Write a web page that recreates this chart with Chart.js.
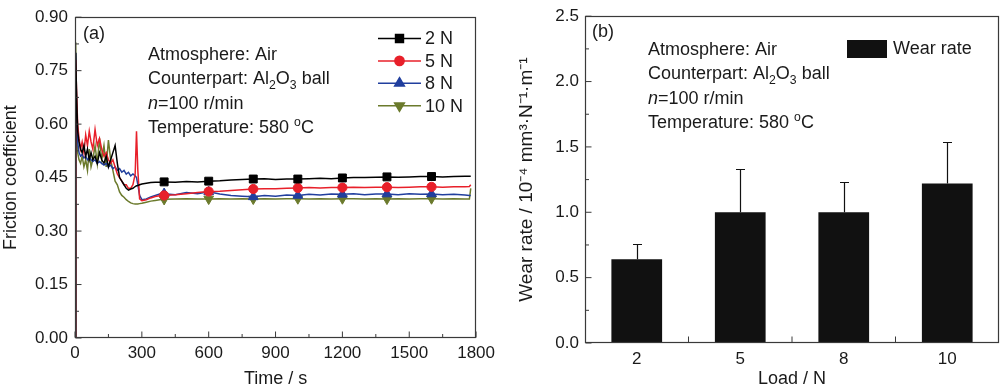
<!DOCTYPE html>
<html><head><meta charset="utf-8">
<script src="https://cdn.jsdelivr.net/npm/chart.js@4.4.1/dist/chart.umd.min.js"></script>
<style>
html,body{margin:0;padding:0;background:#fff;}
#wrap{position:relative;width:1000px;height:390px;overflow:hidden;background:#fff;}
#c1{position:absolute;left:0;top:0;}
#c2{position:absolute;left:500px;top:0;}
</style></head><body>
<div id="wrap"><canvas id="c1" width="500" height="390"></canvas><canvas id="c2" width="500" height="390"></canvas></div>
<script>
// ---------- data: panel (a) friction coefficient vs time ----------
const time = [0,3,8,12,18,25,32,40,48,56,64,72,
  80,90,100,110,120,130,140,150,160,170,180,190,200,210,220,230,240,250,260,270,
  276,282,290,300,320,340,360,380,
  400,450,500,550,600,650,700,750,800,850,900,950,1000,1050,1100,1150,1200,1250,1300,1350,1400,1450,1500,1550,1600,1650,1700,1750,
  1770,1776];
const mu2N = [0,0.80,0.66,0.58,0.55,0.53,0.52,0.54,0.51,0.53,0.50,0.52,
  0.50,0.51,0.49,0.52,0.50,0.49,0.51,0.48,0.50,0.52,0.54,0.49,0.45,0.44,0.43,0.42,0.415,0.418,0.42,0.425,
  0.427,0.428,0.430,0.432,0.434,0.436,0.437,0.437,
  0.438,0.437,0.439,0.438,0.440,0.441,0.443,0.445,0.446,0.447,0.445,0.446,0.446,0.447,0.448,0.447,0.449,0.450,0.450,0.451,0.452,0.451,0.452,0.453,0.453,0.452,0.453,0.454,
  0.454,0.454];
const mu5N = [0,0.78,0.67,0.60,0.56,0.53,0.55,0.52,0.57,0.54,0.58,0.55,
  0.53,0.585,0.54,0.56,0.53,0.51,0.52,0.50,0.49,0.50,0.48,0.46,0.45,0.44,0.43,0.43,0.42,0.42,0.43,0.46,
  0.58,0.47,0.39,0.385,0.388,0.393,0.397,0.399,
  0.400,0.402,0.405,0.408,0.411,0.412,0.414,0.416,0.418,0.419,0.419,0.420,0.421,0.422,0.421,0.422,0.422,0.423,0.422,0.423,0.423,0.422,0.423,0.424,0.424,0.423,0.424,0.424,
  0.425,0.430];
const mu8N = [0,0.80,0.62,0.55,0.52,0.51,0.515,0.505,0.51,0.50,0.505,0.50,
  0.495,0.50,0.49,0.495,0.49,0.485,0.49,0.48,0.485,0.475,0.48,0.47,0.475,0.465,0.47,0.46,0.465,0.455,0.46,0.455,
  0.45,0.43,0.40,0.388,0.39,0.396,0.40,0.404,
  0.405,0.402,0.408,0.405,0.410,0.404,0.400,0.398,0.396,0.400,0.398,0.401,0.400,0.403,0.401,0.404,0.403,0.405,0.402,0.404,0.404,0.402,0.405,0.403,0.404,0.402,0.403,0.401,
  0.400,0.400];
const mu10N = [0,0.83,0.58,0.52,0.50,0.49,0.51,0.48,0.50,0.47,0.53,0.48,
  0.50,0.54,0.49,0.56,0.50,0.54,0.48,0.555,0.50,0.47,0.44,0.43,0.41,0.40,0.395,0.388,0.383,0.379,0.377,0.376,
  0.376,0.376,0.377,0.378,0.381,0.384,0.386,0.388,
  0.389,0.390,0.391,0.390,0.390,0.391,0.390,0.391,0.390,0.391,0.390,0.391,0.391,0.390,0.391,0.390,0.391,0.391,0.390,0.391,0.390,0.391,0.390,0.391,0.391,0.390,0.391,0.390,
  0.390,0.420];
const seriesLabels = ['2 N','5 N','8 N','10 N'];
const markerTimes = [400,600,800,1000,1200,1400,1600];

// ---------- data: panel (b) wear rate vs load ----------
const loads = ['2','5','8','10'];
const wearRate = [0.64,1.00,1.00,1.22];
const wearErr = [0.12,0.33,0.23,0.32];

const FONT = "'Liberation Sans', Arial, Helvetica, sans-serif";
const TXT = '#1a1a1a';
Chart.defaults.font.family = FONT;
Chart.defaults.color = TXT;

function drawRich(ctx, x, y, parts, size) {
  let cx = x;
  for (const p of parts) {
    const small = p.sub || p.sup;
    const fs = small ? size * 0.68 : size;
    ctx.font = (p.it ? 'italic ' : '') + fs + 'px ' + FONT;
    const dy = p.sub ? size * 0.28 : (p.sup ? -size * 0.4 : 0);
    ctx.fillText(p.t, cx, y + dy);
    cx += ctx.measureText(p.t).width;
  }
}
const notes = [
  [{t:'Atmosphere: Air'}],
  [{t:'Counterpart: Al'},{t:'2',sub:1},{t:'O'},{t:'3',sub:1},{t:' ball'}],
  [{t:'n',it:1},{t:'=100 r/min'}],
  [{t:'Temperature: 580 '},{t:'o',sup:1},{t:'C'}]
];

// frame + inward ticks
const frameTicks = {
  id: 'frameTicks',
  afterDraw(chart, args, o) {
    const {ctx, chartArea: a} = chart;
    ctx.save();
    ctx.strokeStyle = '#3a3a3a';
    ctx.lineWidth = 1.2;
    const L = Math.round(a.left) + 0.5, R = Math.round(a.right) - 0.5,
          T = Math.round(a.top) + 0.5, B = Math.round(a.bottom) - 0.5;
    ctx.strokeRect(L, T, R - L, B - T);
    ctx.lineWidth = 1;
    const ys = chart.scales.y;
    const yt = ys.ticks.map(t => ys.getPixelForValue(t.value));
    ctx.beginPath();
    yt.forEach((p, i) => {
      ctx.moveTo(L, p); ctx.lineTo(L + 6, p);
      if (i > 0) { const m = (p + yt[i-1]) / 2; ctx.moveTo(L, m); ctx.lineTo(L + 3.5, m); }
    });
    const xs = chart.scales.x;
    if (o.category) {
      for (let i = 1; i < xs.ticks.length; i++) {
        const m = (xs.getPixelForTick(i) + xs.getPixelForTick(i-1)) / 2;
        ctx.moveTo(m, B); ctx.lineTo(m, B - 6);
      }
    } else {
      const xt = xs.ticks.map(t => xs.getPixelForValue(t.value));
      xt.forEach((p, i) => {
        ctx.moveTo(p, B); ctx.lineTo(p, B - 6);
        if (i > 0) { const m = (p + xt[i-1]) / 2; ctx.moveTo(m, B); ctx.lineTo(m, B - 3.5); }
      });
    }
    ctx.stroke();
    ctx.restore();
  }
};

// annotations
const notesPlugin = {
  id: 'notes',
  afterDraw(chart, args, o) {
    const ctx = chart.ctx;
    ctx.save();
    ctx.fillStyle = TXT;
    ctx.textBaseline = 'alphabetic';
    ctx.textAlign = 'left';
    drawRich(ctx, o.tagX, o.tagY, [{t:o.tag}], 18);
    notes.forEach((line, i) => drawRich(ctx, o.x, o.y0 + i * 24.4, line, 18));
    ctx.restore();
  }
};

// legend for panel (a)
const lineLegend = {
  id: 'lineLegend',
  afterDraw(chart) {
    const ctx = chart.ctx;
    ctx.save();
    chart.data.datasets.forEach((ds, i) => {
      const y = 38.5 + i * 22.4;
      ctx.strokeStyle = ds.borderColor; ctx.lineWidth = 1.5;
      ctx.beginPath(); ctx.moveTo(378, y); ctx.lineTo(421, y); ctx.stroke();
      ctx.fillStyle = ds.borderColor;
      Chart.helpers.drawPoint(ctx, {pointStyle: ds.pointStyle, radius: ds.mr, rotation: ds.pointRotation || 0, borderWidth: 1}, 399.5, y);
      ctx.fillStyle = TXT;
      ctx.font = '18px ' + FONT;
      ctx.textBaseline = 'middle';
      ctx.fillText(ds.label, 425, y + 1);
    });
    ctx.restore();
  }
};

// legend + error bars for panel (b)
const barExtras = {
  id: 'barExtras',
  afterDatasetsDraw(chart) {
    const ctx = chart.ctx, ys = chart.scales.y;
    const meta = chart.getDatasetMeta(0);
    ctx.save();
    ctx.strokeStyle = '#111'; ctx.lineWidth = 1.2;
    ctx.beginPath();
    meta.data.forEach((bar, i) => {
      const x = Math.round(bar.x) + 0.5;
      const y0 = ys.getPixelForValue(wearRate[i]);
      const y1 = Math.round(ys.getPixelForValue(wearRate[i] + wearErr[i])) + 0.5;
      ctx.moveTo(x, y0); ctx.lineTo(x, y1);
      ctx.moveTo(x - 4.5, y1); ctx.lineTo(x + 4.5, y1);
    });
    ctx.stroke();
    // legend
    ctx.fillStyle = '#111';
    ctx.fillRect(347, 40, 40, 18);
    ctx.fillStyle = TXT;
    ctx.font = '18px ' + FONT;
    ctx.textBaseline = 'middle';
    ctx.fillText(chart.data.datasets[0].label, 393, 49.5);
    ctx.restore();
  }
};

const colors = ['#000000', '#e8202a', '#213f9e', '#6b7a2c'];
const styles = ['rect', 'circle', 'triangle', 'triangle'];
const radii = [5.6, 4.6, 5.6, 5.6];
const seriesVals = [mu2N, mu5N, mu8N, mu10N];

new Chart(document.getElementById('c1'), {
  type: 'line',
  data: {
    datasets: seriesVals.map((vals, k) => ({
      label: seriesLabels[k],
      data: vals.map((v, i) => ({x: time[i], y: v})),
      borderColor: colors[k],
      backgroundColor: colors[k],
      borderWidth: 1.5,
      pointStyle: styles[k],
      pointRotation: k === 3 ? 180 : 0,
      mr: radii[k],
      pointRadius: c => markerTimes.includes(time[c.dataIndex]) ? radii[k] : 0,
      pointBorderWidth: 1,
      tension: 0,
      order: k
    }))
  },
  options: {
    responsive: false, animation: false, devicePixelRatio: 1,
    layout: {padding: {top: 13, right: 22, left: 0, bottom: 0}},
    plugins: {legend: {display: false}, tooltip: {enabled: false},
      notes: {tag: '(a)', tagX: 83, tagY: 39, x: 148, y0: 60}},
    scales: {
      x: {type: 'linear', min: 0, max: 1800,
        grid: {display: false, drawTicks: false}, border: {display: false},
        ticks: {stepSize: 300, padding: 5, maxRotation: 0, autoSkip: false, font: {size: 17}, color: TXT, callback: v => String(v)},
        title: {display: true, text: 'Time / s', font: {size: 18}, color: TXT, padding: {top: 0, bottom: 0}},
        afterFit: s => { s.height = 52; }
      },
      y: {min: 0, max: 0.9,
        grid: {display: false, drawTicks: false}, border: {display: false},
        ticks: {stepSize: 0.15, padding: 7, font: {size: 17}, color: TXT, callback: v => v.toFixed(2)},
        title: {display: true, text: 'Friction coefficient', font: {size: 18}, color: TXT, padding: {top: 0, bottom: 0}},
        afterFit: s => { s.width = 75; }
      }
    }
  },
  plugins: [frameTicks, notesPlugin, lineLegend]
});

new Chart(document.getElementById('c2'), {
  type: 'bar',
  data: {
    labels: loads,
    datasets: [{label: 'Wear rate', data: wearRate, backgroundColor: '#111111', borderWidth: 0,
      categoryPercentage: 1, barPercentage: 0.49}]
  },
  options: {
    responsive: false, animation: false, devicePixelRatio: 1,
    layout: {padding: {top: 13, right: 1, left: 0, bottom: 0}},
    plugins: {legend: {display: false}, tooltip: {enabled: false},
      notes: {tag: '(b)', tagX: 92, tagY: 37, x: 148, y0: 55},
      frameTicks: {category: true}},
    scales: {
      x: {grid: {display: false, drawTicks: false}, border: {display: false},
        ticks: {padding: 6, font: {size: 17}, color: TXT},
        title: {display: true, text: 'Load / N', font: {size: 18}, color: TXT, padding: {top: 0, bottom: 0}},
        afterFit: s => { s.height = 47; }
      },
      y: {min: 0, max: 2.5,
        grid: {display: false, drawTicks: false}, border: {display: false},
        ticks: {stepSize: 0.5, padding: 6, font: {size: 17}, color: TXT, callback: v => v.toFixed(1)},
        title: {display: true, text: 'Wear rate / 10⁻⁴ mm³·N⁻¹·m⁻¹', font: {size: 19}, color: TXT, padding: {top: 15, bottom: 0}},
        afterFit: s => { s.width = 85; }
      }
    }
  },
  plugins: [frameTicks, notesPlugin, barExtras]
});
</script>
</body></html>
